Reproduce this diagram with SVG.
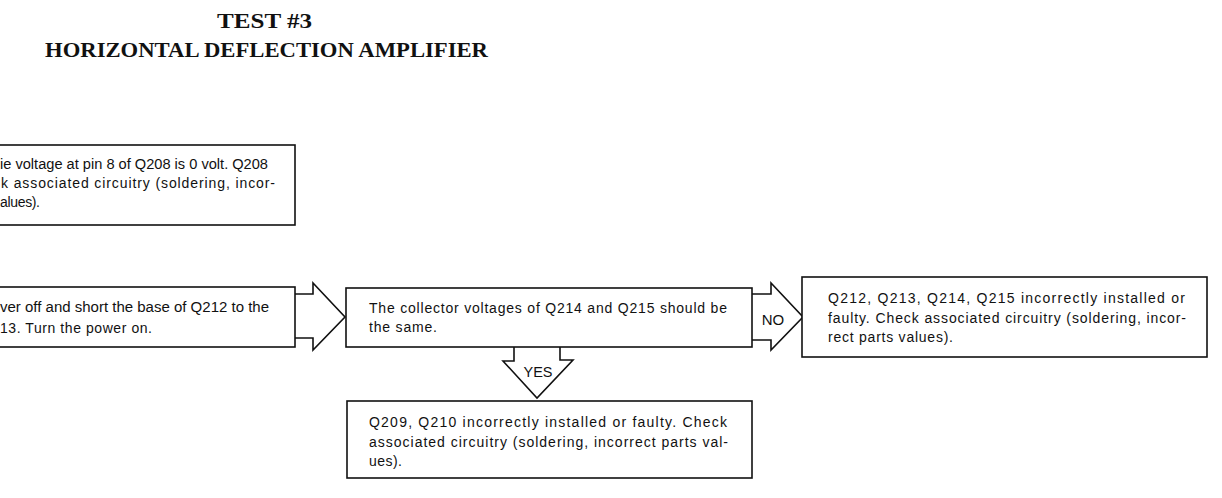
<svg xmlns="http://www.w3.org/2000/svg" width="1222" height="498" viewBox="0 0 1222 498">
<style>
.box{fill:#fff;stroke:#111;stroke-width:1.6}
.arr{fill:#fff;stroke:#111;stroke-width:1.6;stroke-linejoin:miter}
.t{font-family:"Liberation Sans",Arial,sans-serif;font-size:14px;fill:#111}
.lbl{font-family:"Liberation Sans",Arial,sans-serif;font-size:15px;fill:#111;text-anchor:middle}
.title{font-family:"Liberation Serif","Times New Roman",serif;font-weight:bold;font-size:22px;fill:#111}
</style>
<rect width="1222" height="498" fill="#fff"/>
<g id="title">
<text class="title" x="217" y="28" textLength="95" lengthAdjust="spacingAndGlyphs">TEST #3</text>
<text class="title" x="45" y="57" textLength="443" lengthAdjust="spacingAndGlyphs">HORIZONTAL DEFLECTION AMPLIFIER</text>
</g>
<g id="connectors">
<path class="arr" d="M295,294 L313,294 L313,283 L345,317 L313,350 L313,338 L295,338"/>
<path class="arr" d="M752,294 L771,294 L771,283 L803,317 L771,350 L771,340 L752,340"/>
<path class="arr" d="M514,347 L514,361 L503,361 L537,398 L573,360 L560,360 L560,347"/>
<text class="lbl" x="773" y="325">NO</text>
<text class="lbl" x="538" y="377" textLength="29" lengthAdjust="spacingAndGlyphs">YES</text>
</g>
<g id="node1">
<rect class="box" x="-2" y="145" width="297" height="80"/>
<text class="t" x="0" y="169" textLength="268" lengthAdjust="spacingAndGlyphs">ie voltage at pin 8 of Q208 is 0 volt. Q208</text>
<text class="t" x="1" y="188" textLength="274" lengthAdjust="spacing">k associated circuitry (soldering, incor-</text>
<text class="t" x="0" y="207" textLength="40" lengthAdjust="spacing">alues).</text>
</g>
<g id="node2">
<rect class="box" x="-2" y="287" width="297" height="60"/>
<text class="t" x="0" y="312" textLength="269" lengthAdjust="spacingAndGlyphs">ver off and short the base of Q212 to the</text>
<text class="t" x="0" y="333" textLength="152" lengthAdjust="spacing">13. Turn the power on.</text>
</g>
<g id="node3">
<rect class="box" x="346" y="288" width="406" height="59"/>
<text class="t" x="369" y="313" textLength="358" lengthAdjust="spacing">The collector voltages of Q214 and Q215 should be</text>
<text class="t" x="369" y="332" textLength="68" lengthAdjust="spacing">the same.</text>
</g>
<g id="node4">
<rect class="box" x="347" y="401" width="405" height="77"/>
<text class="t" x="369" y="427" textLength="358" lengthAdjust="spacing">Q209, Q210 incorrectly installed or faulty. Check</text>
<text class="t" x="369" y="447" textLength="359" lengthAdjust="spacing">associated circuitry (soldering, incorrect parts val-</text>
<text class="t" x="369" y="466" textLength="33" lengthAdjust="spacing">ues).</text>
</g>
<g id="node5">
<rect class="box" x="802" y="277" width="405" height="80"/>
<text class="t" x="828" y="303" textLength="357" lengthAdjust="spacing">Q212, Q213, Q214, Q215 incorrectly installed or</text>
<text class="t" x="828" y="323" textLength="358" lengthAdjust="spacing">faulty. Check associated circuitry (soldering, incor-</text>
<text class="t" x="828" y="342" textLength="125" lengthAdjust="spacing">rect parts values).</text>
</g>
</svg>
